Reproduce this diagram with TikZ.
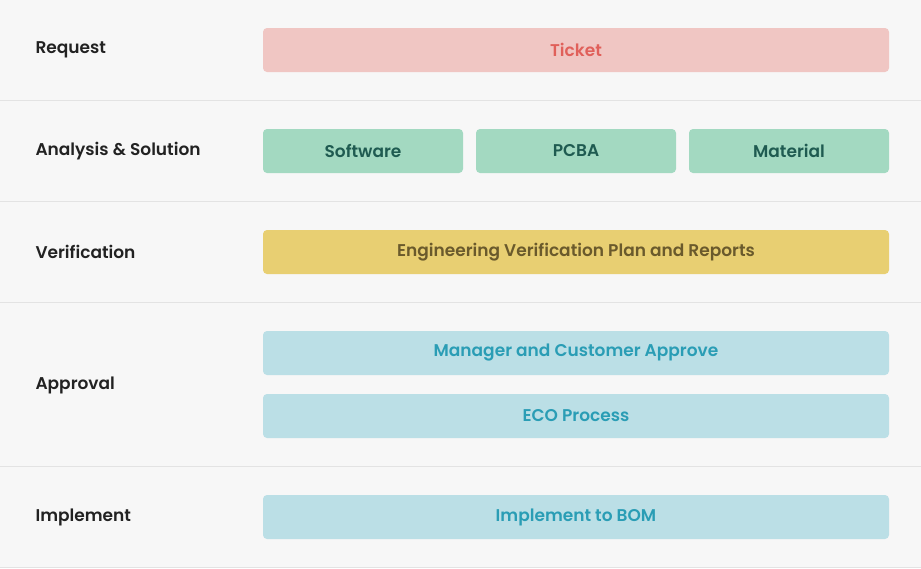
\documentclass[tikz,border=0pt]{standalone}
\usepackage{fontspec}
\setmainfont{Poppins}[BoldFont={Poppins SemiBold}]
\definecolor{bg}{HTML}{F7F7F7}
\definecolor{sep}{HTML}{E3E3E3}
\definecolor{lab}{HTML}{222222}
\definecolor{redF}{HTML}{F0C6C3}\definecolor{redT}{HTML}{E0605A}
\definecolor{grnF}{HTML}{A3D9C1}\definecolor{grnT}{HTML}{1F5B51}
\definecolor{yelF}{HTML}{E8CF72}\definecolor{yelT}{HTML}{6A5A2C}
\definecolor{bluF}{HTML}{BBDFE6}\definecolor{bluT}{HTML}{2A9DB5}
\tikzset{
 lbl/.style={anchor=west,text=lab,font=\fontsize{17}{20}\selectfont\bfseries},
 boxx/.style={rounded corners=4pt,inner sep=0pt,font=\fontsize{17}{20}\selectfont\bfseries},
}
\begin{document}
\begin{tikzpicture}[x=1pt,y=-1pt]
\fill[bg] (0,0) rectangle (921,568);
\useasboundingbox (0,0) rectangle (921,568);
\foreach \y in {100.5,201.5,302.5,466.5,567}{\draw[sep,line width=1pt] (0,\y)--(921,\y);}
\node[lbl] (l1) at (32,50) {Request};
\node[lbl] (l2) at (32,151) {Analysis \& Solution};
\node[lbl] (l3) at (32,252) {Verification};
\node[lbl] (l4) at (32,385) {Approval};
\node[lbl] (l5) at (32,517) {Implement};
\newcommand{\bx}[7]{\filldraw[#5,draw=none,rounded corners=4pt] (#1,#2) rectangle (#3,#4);
 \node[boxx,text=#6] (#7) at ({(#1+#3)/2},{(#2+#4)/2}) {\strut};}
\fill[redF,rounded corners=4pt] (263,28) rectangle (889,72);
\node[boxx,text=redT] (t) at (576,50) {Ticket};
\fill[grnF,rounded corners=4pt] (263,129) rectangle (463,173);
\node[boxx,text=grnT] (s) at (363,151) {Software};
\fill[grnF,rounded corners=4pt] (476,129) rectangle (676,173);
\node[boxx,text=grnT] (p) at (576,151) {PCBA};
\fill[grnF,rounded corners=4pt] (689,129) rectangle (889,173);
\node[boxx,text=grnT] (m) at (789,151) {Material};
\fill[yelF,rounded corners=4pt] (263,230) rectangle (889,274);
\node[boxx,text=yelT] (v) at (576,252) {Engineering Verification Plan and Reports};
\fill[bluF,rounded corners=4pt] (263,331) rectangle (889,375);
\node[boxx,text=bluT] (a) at (576,353) {Manager and Customer Approve};
\fill[bluF,rounded corners=4pt] (263,394) rectangle (889,438);
\node[boxx,text=bluT] (e) at (576,416) {ECO Process};
\fill[bluF,rounded corners=4pt] (263,495) rectangle (889,539);
\node[boxx,text=bluT] (i) at (576,517) {Implement to BOM};
\end{tikzpicture}
\end{document}
